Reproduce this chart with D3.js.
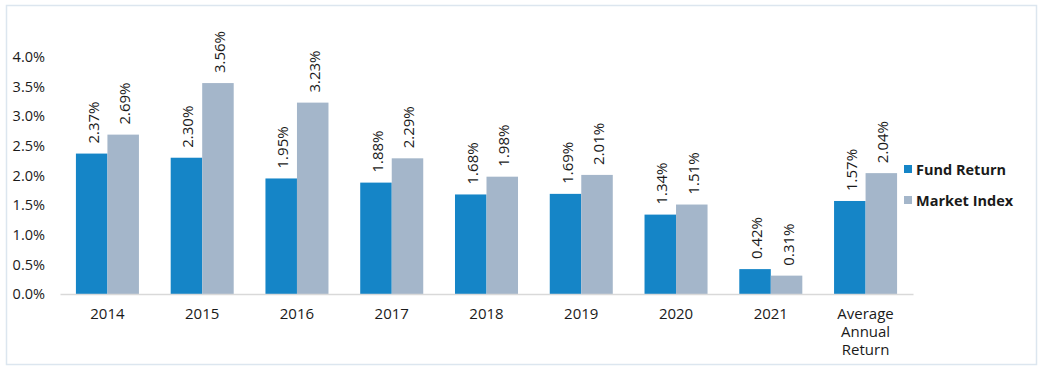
<!DOCTYPE html>
<html>
<head>
<meta charset="utf-8">
<script src="https://cdn.jsdelivr.net/npm/d3@7"></script>
<style>
body { margin: 0; background: #fff; }
text { font-family: "Open Sans", "Noto Sans", sans-serif; fill: #1a1a1a; }
</style>
</head>
<body>
<svg id="chart" width="1044" height="370"></svg>
<script>
// data
var years = ["2014","2015","2016","2017","2018","2019","2020","2021","Average Annual Return"];
var fundReturn = [2.37, 2.30, 1.95, 1.88, 1.68, 1.69, 1.34, 0.42, 1.57];
var marketIndex = [2.69, 3.56, 3.23, 2.29, 1.98, 2.01, 1.51, 0.31, 2.04];
var seriesNames = ["Fund Return", "Market Index"];
var yTicks = [0, 0.5, 1, 1.5, 2, 2.5, 3, 3.5, 4];

var colors = ["#1585c7", "#a4b6ca"];

var svg = d3.select("#chart");

// outer frame
svg.append("rect")
    .attr("x", 6.5).attr("y", 5.5)
    .attr("width", 1030).attr("height", 359)
    .attr("fill", "none")
    .attr("stroke", "#dce6ef")
    .attr("stroke-width", 1.5);

var x0 = d3.scaleBand()
    .domain(years)
    .range([60, 913])
    .paddingInner(0.335)
    .paddingOuter(0.168);

var x1 = d3.scaleBand()
    .domain(seriesNames)
    .range([0, x0.bandwidth()]);

var y = d3.scaleLinear()
    .domain([0, 4])
    .range([294, 57]);

// y axis labels
var yAxis = d3.axisLeft(y)
    .tickValues(yTicks)
    .tickFormat(d => d.toFixed(1) + "%")
    .tickSize(0)
    .tickPadding(0);

var gy = svg.append("g")
    .attr("transform", "translate(45,0)")
    .call(yAxis);
gy.select(".domain").remove();
gy.selectAll("text")
    .style("font-family", "'Open Sans', sans-serif")
    .attr("font-size", 14.5)
    .attr("fill", "#1a1a1a");

// bars
var rows = years.map((c, i) => ({cat: c, vals: [fundReturn[i], marketIndex[i]]}));

var grp = svg.append("g").selectAll("g")
    .data(rows)
    .enter().append("g")
    .attr("transform", d => `translate(${x0(d.cat)},0)`);

grp.selectAll("rect")
    .data(d => d.vals.map((v, j) => ({name: seriesNames[j], v: v, j: j})))
    .enter().append("rect")
    .attr("x", d => x1(d.name))
    .attr("y", d => y(d.v))
    .attr("width", x1.bandwidth())
    .attr("height", d => y(0) - y(d.v))
    .attr("fill", d => colors[d.j]);

// value labels, rotated
grp.selectAll("text")
    .data(d => d.vals.map((v, j) => ({name: seriesNames[j], v: v, j: j})))
    .enter().append("text")
    .attr("transform", d => `translate(${x1(d.name) + x1.bandwidth() / 2 + 7},${y(d.v) - 10}) rotate(-90)`)
    .attr("font-size", 15)
    .attr("text-anchor", "start")
    .text(d => d.v.toFixed(2) + "%");

// x axis
var xAxis = d3.axisBottom(x0).tickSize(0).tickPadding(0);
var gx = svg.append("g")
    .attr("transform", "translate(0,294)")
    .call(xAxis);
gx.select(".domain")
    .attr("stroke", "#d9d9d9")
    .attr("stroke-width", 1.5);
gx.selectAll(".tick text").remove();

// category labels (wrapped)
var wrapped = {"Average Annual Return": ["Average", "Annual", "Return"]};
years.forEach(function(c) {
    var lines = wrapped[c] || [c];
    var t = svg.append("text")
        .attr("x", x0(c) + x0.bandwidth() / 2)
        .attr("y", 319)
        .attr("text-anchor", "middle")
        .attr("font-size", 15);
    lines.forEach(function(l, k) {
        t.append("tspan")
            .attr("x", x0(c) + x0.bandwidth() / 2)
            .attr("dy", k === 0 ? 0 : 18)
            .text(l);
    });
});

// legend
var leg = svg.append("g").selectAll("g")
    .data(seriesNames)
    .enter().append("g")
    .attr("transform", (d, i) => `translate(904,${169 + i * 31})`);

leg.append("rect")
    .attr("x", 0).attr("y", -4)
    .attr("width", 8).attr("height", 8)
    .attr("fill", (d, i) => colors[i]);

leg.append("text")
    .attr("x", 12)
    .attr("y", 5.5)
    .attr("font-size", 14.5)
    .attr("font-weight", "bold")
    .text(d => d);
</script>
</body>
</html>
